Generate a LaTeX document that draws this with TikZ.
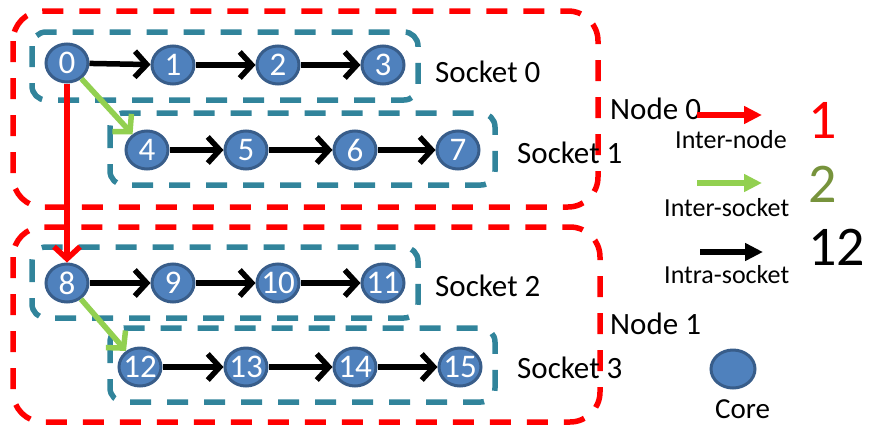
\documentclass[tikz,border=0pt]{standalone}
\usepackage{fontspec}
\setmainfont{Carlito}
\usetikzlibrary{shapes.geometric,arrows.meta}
\definecolor{corefill}{HTML}{4F81BD}
\definecolor{coreedge}{HTML}{385D8A}
\definecolor{sockteal}{HTML}{31849B}
\definecolor{nodered}{HTML}{FF0000}
\definecolor{sockgreen}{HTML}{92D050}
\definecolor{olive}{HTML}{77933C}
\tikzset{
  core/.style={ellipse, draw=coreedge, fill=corefill, line width=3pt,
    minimum width=42pt, minimum height=38pt, inner sep=0pt},
  corenum/.style={text=white, font=\fontsize{33}{33}\selectfont, inner sep=0pt},
  nodebox/.style={draw=nodered, line width=5.5pt, rounded corners=30pt,
    dash pattern=on 21pt off 16pt},
  sockbox/.style={draw=sockteal, line width=5.5pt, rounded corners=14pt,
    dash pattern=on 21pt off 16pt},
  barb/.style={-{Straight Barb[length=12pt,width=26pt]}, line width=5.5pt},
  intra/.style={barb, draw=black},
  intersock/.style={barb, draw=sockgreen},
  internode/.style={barb, draw=nodered},
  legarrow/.style={-{Triangle[length=18pt,width=17pt]}, line width=5.5pt},
  lbl/.style={anchor=base west, inner sep=0pt, font=\fontsize{31}{31}\selectfont},
  small/.style={anchor=base west, inner sep=0pt, font=\fontsize{26}{26}\selectfont},
  big/.style={anchor=base west, inner sep=0pt, font=\fontsize{56}{56}\selectfont},
}
\begin{document}
\begin{tikzpicture}[x=1pt,y=-1pt]
\useasboundingbox (0,0) rectangle (870,426);

% node and socket frames
\draw[nodebox] (13,11) rectangle (598,207);
\draw[nodebox] (13,227) rectangle (600,422);
\draw[sockbox] (32,32) rectangle (418,100);
\draw[sockbox] (110,113) rectangle (495,185);
\draw[sockbox] (32,247) rectangle (418,318);
\draw[sockbox] (110,328) rectangle (495,402);

% cores
\foreach \n/\x/\y in {0/67/63,1/173/65,2/278/65,3/383/65,
                      4/147/150,5/246/150,6/355/150,7/458/150,
                      8/67/283,9/173/283,10/278/283,11/383/283,
                      12/140/367,13/246/367,14/355/367,15/460/367}
  \node[core, label={[corenum]center:\n}] (c\n) at (\x,\y) {};

% intra-socket chains
\foreach \a/\b in {0/1,1/2,2/3,4/5,5/6,6/7,8/9,9/10,10/11,12/13,13/14,14/15}
  \draw[intra] (c\a) -- (c\b);

% inter-socket and inter-node hops
\draw[intersock] (c0) -- (c4);
\draw[intersock] (c8) -- (c12);
\draw[internode] (c0) -- (c8);

% frame labels
\node[lbl] (s0) at (435,82) {Socket 0};
\node[lbl] (s1) at (517,163) {Socket 1};
\node[lbl] (n0) at (610,119) {Node 0};
\node[lbl] (s2) at (435,296) {Socket 2};
\node[lbl] (s3) at (517,378) {Socket 3};
\node[lbl] (n1) at (610,334) {Node 1};

% legend
\coordinate (la1) at (697,115); \coordinate (lb1) at (762,115);
\coordinate (la2) at (697,183); \coordinate (lb2) at (762,183);
\coordinate (la3) at (700,252); \coordinate (lb3) at (763,252);
\draw[legarrow, draw=nodered, fill=nodered] (la1) -- (lb1);
\draw[legarrow, draw=sockgreen, fill=sockgreen] (la2) -- (lb2);
\draw[legarrow, draw=black, fill=black] (la3) -- (lb3);
\node[small] (t1) at (675,148) {Inter-node};
\node[small] (t2) at (664,216) {Inter-socket};
\node[small] (t3) at (664,283) {Intra-socket};
\node[big, text=nodered] (v1) at (808,138) {1};
\node[big, text=olive] (v2) at (808,202) {2};
\node[big] (v3) at (808,265) {12};
\node[core, minimum width=44pt] (lc) at (733,369) {};
\node[anchor=base west, inner sep=0pt, font=\fontsize{29}{29}\selectfont] (lct) at (715,418) {Core};
\end{tikzpicture}
\end{document}
